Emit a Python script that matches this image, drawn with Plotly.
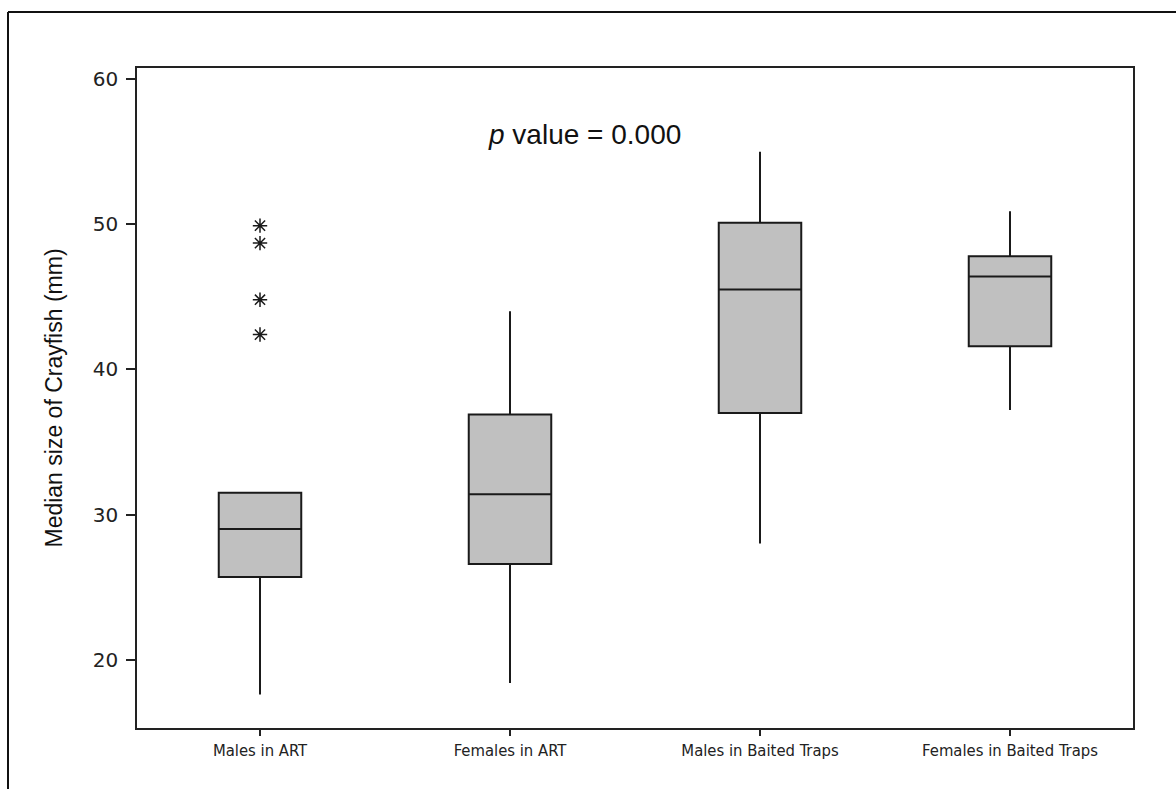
import plotly.graph_objects as go

categories = ["Males in ART", "Females in ART", "Males in Baited Traps", "Females in Baited Traps"]
lower_whisker = [17.6, 18.4, 28.0, 37.2]
q1_vals = [25.7, 26.6, 37.0, 41.6]
median_vals = [29.0, 31.4, 45.5, 46.4]
q3_vals = [31.5, 36.9, 50.1, 47.8]
upper_whisker = [31.5, 44.0, 55.0, 50.9]
outlier_cat = [0, 0, 0, 0]
outlier_vals = [49.9, 48.7, 44.8, 42.4]
y_ticks = [20, 30, 40, 50, 60]

xs = list(range(len(categories)))

fig = go.Figure()
fig.add_trace(go.Box(
    x=xs,
    q1=q1_vals, median=median_vals, q3=q3_vals,
    lowerfence=lower_whisker, upperfence=upper_whisker,
    width=0.33, whiskerwidth=0,
    fillcolor="#c0c0c0",
    line=dict(color="#1a1a1a", width=2),
    boxpoints=False, showlegend=False, hoverinfo="skip",
))
fig.add_trace(go.Scatter(
    x=outlier_cat, y=outlier_vals, mode="markers",
    marker=dict(symbol="asterisk-open", size=12, color="#1a1a1a",
                line=dict(color="#1a1a1a", width=1.5)),
    showlegend=False, hoverinfo="skip",
))

axis_font = dict(family="DejaVu Sans Condensed, DejaVu Sans, Liberation Sans", size=16.5, color="#222")
fig.update_xaxes(
    range=[-0.492, 3.492], tickvals=xs, ticktext=categories,
    ticks="outside", ticklen=6, tickwidth=1.5, tickcolor="#222",
    showline=True, linecolor="#222", linewidth=1.5, mirror=True,
    showgrid=False, zeroline=False, tickfont=axis_font,
)
fig.update_yaxes(
    range=[15.3, 60.76], tickvals=y_ticks,
    ticks="outside", ticklen=9, tickwidth=1.5, tickcolor="#222",
    ticklabelstandoff=4,
    showline=True, linecolor="#222", linewidth=1.5, mirror=True,
    showgrid=False, zeroline=False,
    tickfont=dict(family="DejaVu Sans, Liberation Sans", size=20, color="#222"),
    title=dict(text="Median size of Crayfish (mm)",
               font=dict(family="Liberation Sans, Arial", size=23, color="#111"),
               standoff=24),
)

fig.add_annotation(
    x=1.296, y=56.15, xref="x", yref="y",
    text="<i>p</i> value = 0.000", showarrow=False,
    font=dict(family="Liberation Sans, Arial", size=28, color="#111"),
)

L, R, T, B = 137, 43, 68, 61
W, H = 1176, 789
pw, ph = W - L - R, H - T - B
bx = (8 - L) / pw
by = (H - B - 12) / ph
fig.add_shape(type="line", xref="paper", yref="paper",
              x0=bx, x1=bx, y0=-0.2, y1=by, line=dict(color="#111", width=2))
fig.add_shape(type="line", xref="paper", yref="paper",
              x0=bx, x1=1.1, y0=by, y1=by, line=dict(color="#111", width=2))

fig.update_layout(
    width=W, height=H,
    margin=dict(l=L, r=R, t=T, b=B),
    paper_bgcolor="white", plot_bgcolor="white",
)

fig.write_html("out.html", config={"displayModeBar": False},
               post_script="document.body.style.margin='0';document.body.style.overflow='hidden';")
